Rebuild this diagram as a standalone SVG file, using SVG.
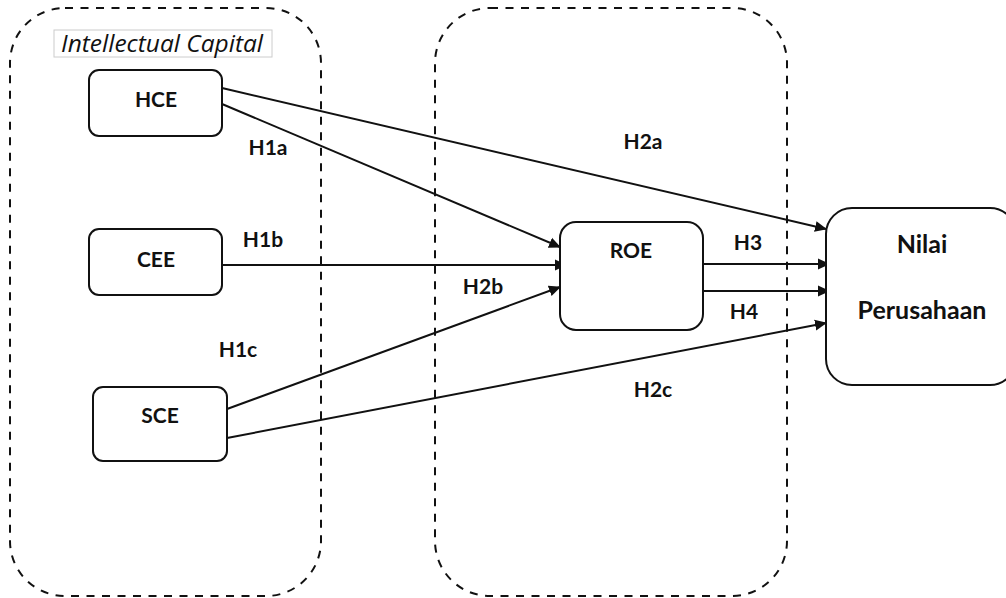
<svg xmlns="http://www.w3.org/2000/svg" width="1006" height="598" viewBox="0 0 1006 598">
<style>
.grp{fill:none;stroke:#111;stroke-width:2;stroke-dasharray:8,7.5}
.box{fill:#fff;stroke:#111;stroke-width:2}
.t{font-family:Lato,"Open Sans","Liberation Sans",sans-serif;font-weight:bold;font-size:21px;fill:#111;text-anchor:middle}
.big{font-size:25px}
.c{fill:none;stroke:#111;stroke-width:2;marker-end:url(#ah)}
</style>
<defs>
<marker id="ah" markerWidth="12" markerHeight="12" refX="11" refY="6" orient="auto" markerUnits="userSpaceOnUse">
<path d="M0,0.5 L12,6 L0,11.5 z" fill="#111"/>
</marker>
</defs>
<g id="group-ic">
<rect class="grp" x="10" y="8" width="311" height="588" rx="55"/>
<rect x="54" y="30" width="218" height="27" fill="#fff" stroke="#ccc" stroke-width="1"/>
<text x="162" y="52" textLength="202" lengthAdjust="spacingAndGlyphs" style="font-family:'Open Sans','Liberation Sans',sans-serif;font-style:italic;font-size:23px;fill:#111" text-anchor="middle">Intellectual Capital</text>
</g>
<g id="group-right">
<rect class="grp" x="435" y="8" width="352" height="588" rx="55"/>
</g>
<g id="connectors">
<line class="c" x1="222" y1="88" x2="826" y2="229"/>
<line class="c" x1="222" y1="104" x2="560" y2="247"/>
<line class="c" x1="222" y1="265" x2="566" y2="265"/>
<line class="c" x1="227" y1="409" x2="560" y2="287"/>
<line class="c" x1="227" y1="438" x2="826" y2="323"/>
<line class="c" x1="703" y1="264" x2="829" y2="264"/>
<line class="c" x1="703" y1="291" x2="829" y2="291"/>
<text class="t" x="268" y="155">H1a</text>
<text class="t" x="643" y="149">H2a</text>
<text class="t" x="263" y="247">H1b</text>
<text class="t" x="483" y="294">H2b</text>
<text class="t" x="238" y="357">H1c</text>
<text class="t" x="748" y="250">H3</text>
<text class="t" x="744" y="319">H4</text>
<text class="t" x="653" y="397">H2c</text>
</g>
<g id="node-hce">
<rect class="box" x="89" y="70" width="133" height="66" rx="10"/>
<text class="t" x="156" y="107">HCE</text>
</g>
<g id="node-cee">
<rect class="box" x="89" y="229" width="133" height="66" rx="10"/>
<text class="t" x="156" y="267">CEE</text>
</g>
<g id="node-sce">
<rect class="box" x="93" y="387" width="134" height="74" rx="10"/>
<text class="t" x="160" y="423">SCE</text>
</g>
<g id="node-roe">
<rect class="box" x="560" y="222" width="143" height="108" rx="16"/>
<text class="t" x="631" y="258">ROE</text>
</g>
<g id="node-nilai">
<rect class="box" x="826" y="208" width="190" height="177" rx="26"/>
<text class="t big" x="922" y="253">Nilai</text>
<text class="t big" x="922" y="319">Perusahaan</text>
</g>
</svg>
